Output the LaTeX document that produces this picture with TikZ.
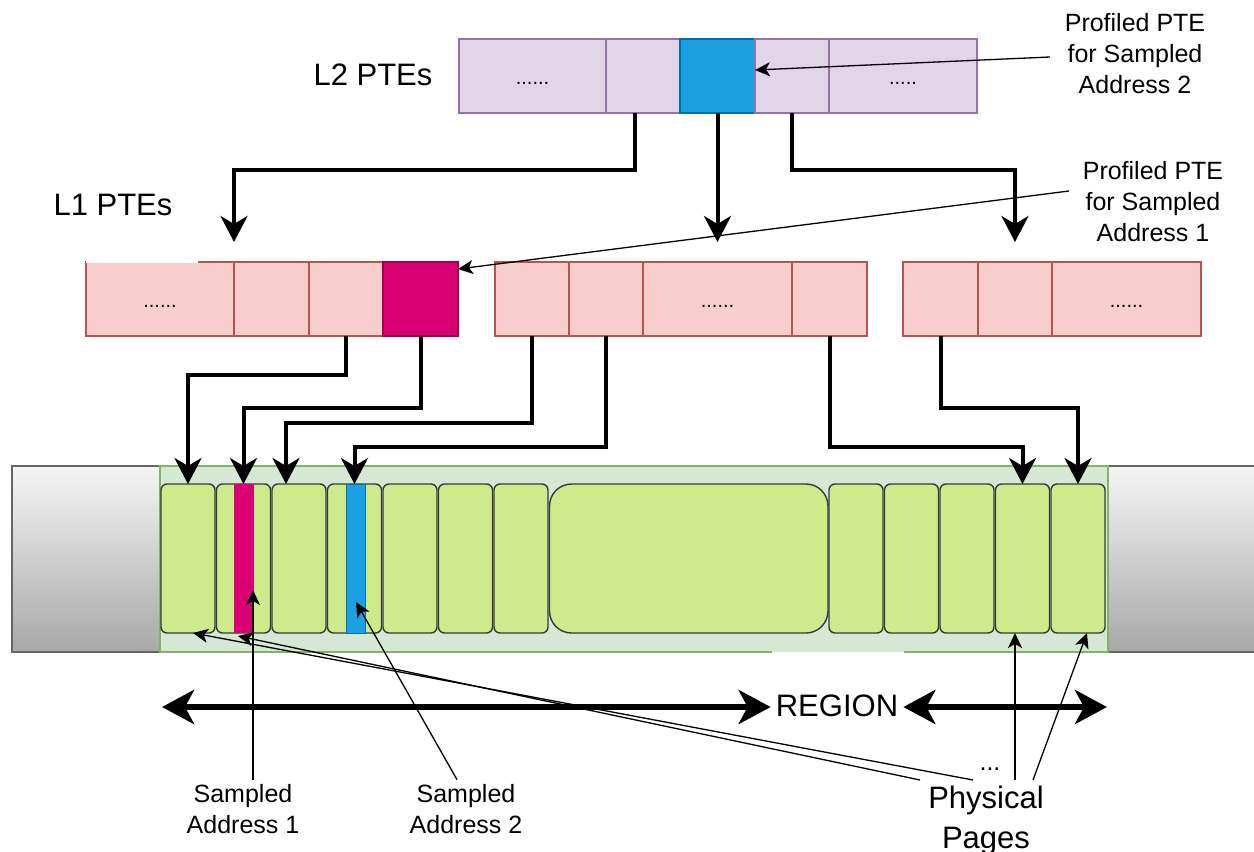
\documentclass[tikz,border=0pt]{standalone}
\usepackage{fontspec}
\setmainfont{Liberation Sans}
\usetikzlibrary{arrows.meta,calc}
\definecolor{lavf}{HTML}{E1D5E7}
\definecolor{lavd}{HTML}{9673A6}
\definecolor{bluef}{HTML}{1BA1E2}
\definecolor{blued}{HTML}{006EAF}
\definecolor{pinkf}{HTML}{F8CECC}
\definecolor{pinkd}{HTML}{B85450}
\definecolor{magf}{HTML}{D80073}
\definecolor{magd}{HTML}{A50040}
\definecolor{areaf}{HTML}{D5E8D4}
\definecolor{aread}{HTML}{82B366}
\definecolor{pagef}{HTML}{CDEB8B}
\definecolor{paged}{HTML}{36393D}
\definecolor{grayt}{HTML}{F5F5F5}
\definecolor{grayb}{HTML}{A8A8A8}
\definecolor{grayd}{HTML}{666666}
\begin{document}
\begin{tikzpicture}[x=1pt,y=-1pt,
 box/.style={anchor=north west, inner sep=0pt, outer sep=0pt, line width=1.3pt},
 l2cell/.style={box, draw=lavd, fill=lavf, minimum height=74},
 l1cell/.style={box, draw=pinkd, fill=pinkf, minimum height=74},
 dotstext/.style={font=\fontsize{20}{20}\selectfont, text height=17pt, text depth=1pt},
 page/.style={box, draw=paged, fill=pagef, line width=1.4pt, minimum height=149, rounded corners=6pt},
 bigfont/.style={font=\fontsize{31}{40}\selectfont, text=black},
 midfont/.style={font=\fontsize{25}{31}\selectfont, align=center, inner sep=0pt, text=black},
 fatarrow/.style={line width=4pt, -{Stealth[length=26pt,width=27pt,inset=8pt]}},
 thinarrow/.style={line width=1.3pt, -{Stealth[length=15pt,width=14pt,inset=4pt]}},
 regionarrow/.style={line width=6pt, {Stealth[length=32pt,width=34pt,inset=9pt]}-{Stealth[length=32pt,width=34pt,inset=9pt]}},
]
\useasboundingbox (0,0) rectangle (1254,852);

% gray bars and region
\node[box, draw=grayd, top color=grayt, bottom color=grayb, minimum width=148, minimum height=186] (gl) at (12,466) {};
\node[box, draw=grayd, top color=grayt, bottom color=grayb, minimum width=160, minimum height=186] (gr) at (1108,466) {};
\node[box, fill=areaf, minimum width=948, minimum height=186] (area) at (160,466) {};
\draw[aread, line width=1.3pt] ([xshift=612pt]area.south west) -- (area.south west) -- (area.north west) -- (area.north east) -- (area.south east) -- ([xshift=-204pt]area.south east);

% pages
\foreach \i/\x in {1/161,2/216.5,3/272,4/327.5,5/383,6/438.5,7/494,8/829,9/884.5,10/940,11/995.5,12/1051}
  \node[page, minimum width=54] (p\i) at (\x,484) {};
\node[page, minimum width=278.5, rounded corners=22pt] (pb) at (549.5,484) {};
\node[box, fill=magf, minimum width=20, minimum height=149] (s1) at (234,484) {};
\node[box, fill=bluef, draw=blued, line width=0.8pt, minimum width=19, minimum height=149] (s2) at (346.5,484) {};

% L2 PTEs
\node[l2cell, minimum width=147, dotstext] (l2a) at (459,39) {......};
\node[l2cell, minimum width=74] (l2b) at (606,39) {};
\node[box, draw=blued, fill=bluef, minimum height=74, minimum width=75] (l2c) at (680,39) {};
\node[l2cell, minimum width=74] (l2d) at (755,39) {};
\node[l2cell, minimum width=148, dotstext] (l2e) at (829,39) {.....};

% L1 PTEs
\node[l1cell, minimum width=148, dotstext] (l1a) at (86,262) {......};
\node[l1cell, minimum width=75] (l1b) at (234,262) {};
\node[l1cell, minimum width=74] (l1c) at (309,262) {};
\node[box, draw=magd, fill=magf, minimum height=74, minimum width=75] (l1d) at (383,262) {};
\draw[white, line width=1.6pt] (l1a.north west) -- ([xshift=112pt]l1a.north west);
\node[l1cell, minimum width=74] (l1e) at (495,262) {};
\node[l1cell, minimum width=74] (l1f) at (569,262) {};
\node[l1cell, minimum width=149, dotstext] (l1g) at (643,262) {......};
\node[l1cell, minimum width=75] (l1h) at (792,262) {};
\node[l1cell, minimum width=75] (l1i) at (903,262) {};
\node[l1cell, minimum width=74] (l1j) at (978,262) {};
\node[l1cell, minimum width=149, dotstext] (l1k) at (1052,262) {......};

% labels
\node[bigfont, anchor=base] (l2lbl) at (373,85) {L2 PTEs};
\node[bigfont, anchor=base] (l1lbl) at (113,215) {L1 PTEs};
\node[midfont] (pr2) at (1135,53.5) {Profiled PTE\\for Sampled\\Address 2};
\node[midfont] (pr1) at (1153,202) {Profiled PTE\\for Sampled\\Address 1};
\node[midfont] (sl1) at (243,809.5) {Sampled\\Address 1};
\node[midfont] (sl2) at (466,809.5) {Sampled\\Address 2};
\node[bigfont, align=center, inner sep=0pt] (phys) at (986,820.7) {Physical\\Pages};
\node[midfont, anchor=base] (dots) at (990,770) {...};
\node[bigfont, anchor=base, inner xsep=5pt, inner ysep=0pt] (rlbl) at (837,716) {REGION};

% free ends
\coordinate (t1) at (234,242);
\coordinate (t2) at (717.5,242);
\coordinate (t3) at (1015,242);
\coordinate (rl) at (162,707);
\coordinate (rr) at (1107,707);
\coordinate (pa2) at (1050,57);
\coordinate (pa1) at (1069,191);
\coordinate (ta1) at (253,590);
\coordinate (ta2) at (356,602);
\coordinate (pp1) at (1015,780);
\coordinate (pp2) at (1033,780);
\coordinate (pp3) at (973,780);
\coordinate (pp4) at (920,780);

% L2 -> L1
\draw[fatarrow] ([xshift=-8pt]l2b.south) -- ++(0,57) -| (t1);
\draw[fatarrow] (l2c.south) -- (t2);
\draw[fatarrow] (l2d.south) -- ++(0,57) -| (t3);

% L1 -> pages
\draw[fatarrow] (l1c.south) -- ++(0,39) -| (p1.north);
\draw[fatarrow] (l1d.south) -- ++(0,72) -| (p2.north);
\draw[fatarrow] (l1e.south) -- ++(0,87) -| ([xshift=-13pt]p3.north);
\draw[fatarrow] (l1f.south) -- ++(0,111) -| (p4.north);
\draw[fatarrow] (l1h.south) -- ++(0,111) -| (p11.north);
\draw[fatarrow] (l1i.south) -- ++(0,72) -| (p12.north);

% thin arrows
\draw[thinarrow] (pa2) -- ([yshift=6pt]l2c.east);
\draw[thinarrow] (pa1) -- ([yshift=-7pt]l1d.north east);
\draw[thinarrow] ([xshift=10pt,yshift=5pt]sl1.north) -- (ta1);
\draw[thinarrow] ([xshift=-9pt,yshift=5pt]sl2.north) -- (ta2);
\draw[thinarrow] (pp1) -- ([xshift=-7.5pt]p11.south);
\draw[thinarrow] (pp2) -- ([xshift=9pt]p12.south);
\draw[thinarrow] (pp3) -- ([xshift=5pt]p1.south);
\draw[thinarrow] (pp4) -- ([xshift=-5.5pt,yshift=-3pt]p2.south);

% region
\draw[regionarrow] (rl) -- (rl -| rlbl.west);
\draw[regionarrow] (rl -| rlbl.east) -- (rr);
\end{tikzpicture}
\end{document}
